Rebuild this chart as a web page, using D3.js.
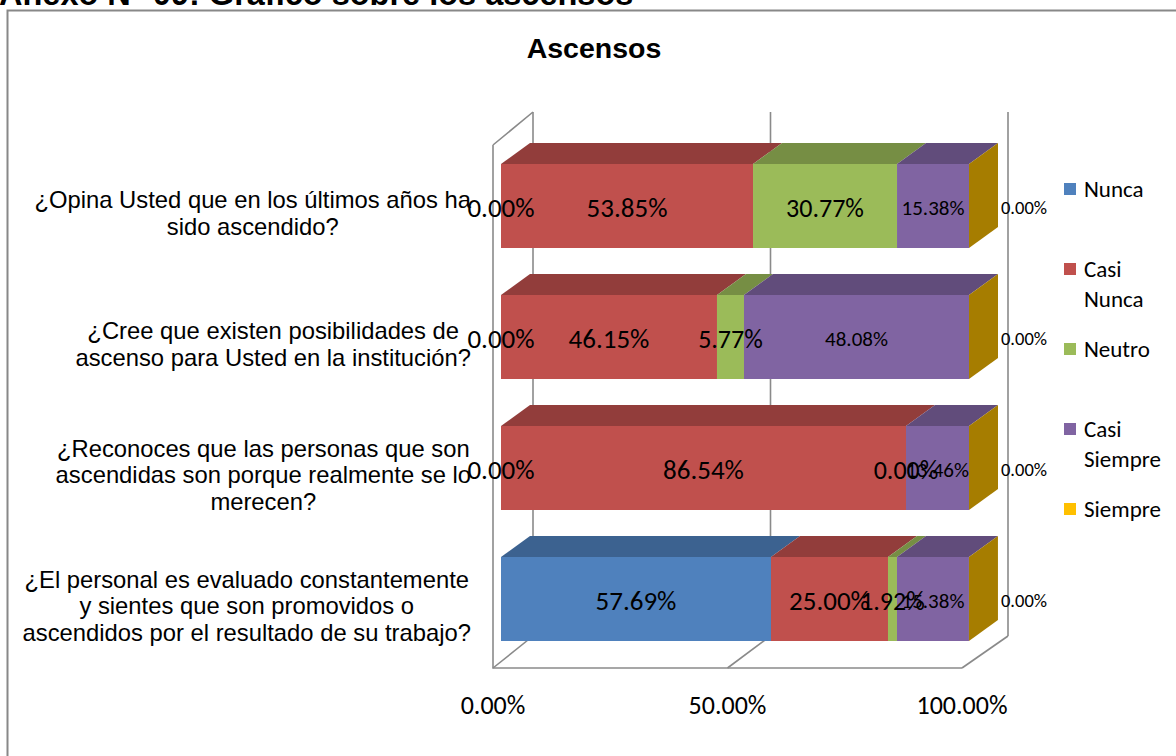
<!DOCTYPE html>
<html>
<head>
<meta charset="utf-8">
<script src="https://cdn.jsdelivr.net/npm/d3@7"></script>
<style>
  body { margin: 0; background: #fff; }
  svg text { fill: #000; }
</style>
</head>
<body>
<svg class="chart"></svg>
<script>
// data (rows top to bottom)
var questions = [
    ["¿Opina Usted que en los últimos años ha", "sido ascendido?"],
    ["¿Cree que existen posibilidades de", "ascenso para Usted en la institución?"],
    ["¿Reconoces que las personas que son", "ascendidas son porque realmente se lo", "merecen?"],
    ["¿El personal es evaluado constantemente", "y sientes que son promovidos o", "ascendidos por el resultado de su trabajo?"]
];
var series = ["Nunca", "Casi Nunca", "Neutro", "Casi Siempre", "Siempre"];
var nunca = [0.00, 0.00, 0.00, 57.69];
var casiNunca = [53.85, 46.15, 86.54, 25.00];
var neutro = [30.77, 5.77, 0.00, 1.92];
var casiSiempre = [15.38, 48.08, 13.46, 15.38];
var siempre = [0.00, 0.00, 0.00, 0.00];
var ticks = [0, 50, 100];

var colors = ["#4F81BD", "#C0504D", "#9BBB59", "#8064A2", "#FFC000"];
var labelSizes = [27, 27, 26, 21, 18.5];

var W = 1176, H = 756;
var depth = { x: 29, y: -21 };

var svg = d3.select("svg.chart")
    .attr("width", W)
    .attr("height", H);

// chart frame (runs off the right and bottom)
svg.append("rect")
    .attr("x", 7.5).attr("y", 10.5)
    .attr("width", 1300).attr("height", 900)
    .attr("fill", "none")
    .attr("stroke", "#888")
    .attr("stroke-width", 2);

svg.append("text")
    .text("Anexo N° 09: Gráfico sobre los ascensos")
    .attr("x", -1).attr("y", 5)
    .style("font-family", "Arial, 'Liberation Sans', sans-serif")
    .style("font-weight", "bold")
    .style("font-size", "32.5px");

svg.append("text")
    .text("Ascensos")
    .attr("x", 594).attr("y", 58)
    .attr("text-anchor", "middle")
    .style("font-family", "Arial, 'Liberation Sans', sans-serif")
    .style("font-weight", "bold")
    .style("font-size", "28.5px");

// build table for stack
var values = [nunca, casiNunca, neutro, casiSiempre, siempre];
var table = questions.map(function (q, i) {
    var row = { q: i };
    series.forEach(function (s, k) { row[s] = values[k][i]; });
    return row;
});
var stacked = d3.stack().keys(series)(table);

// scales
var x = d3.scaleLinear().domain([0, 100]).range([501, 969]);
var floorFront = d3.scaleLinear().domain([0, 100]).range([493, 962]);
var floorBack = d3.scaleLinear().domain([0, 100]).range([533, 1008]);
var y = d3.scaleBand()
    .domain(d3.range(questions.length))
    .range([140.5, 664.5])
    .paddingInner(0.3588)
    .paddingOuter(0.1794);

var wallTop = { front: 145, back: 112 };
var floorY = { front: 668, back: 636 };

// walls and floor
var grid = svg.append("g")
    .attr("fill", "none")
    .attr("stroke", "#8a8a8a")
    .attr("stroke-width", 1.6);

grid.append("path")
    .attr("d", "M" + [floorFront(0), wallTop.front] + "L" + [floorBack(0), wallTop.back] +
        "M" + [floorFront(0), wallTop.front] + "L" + [floorFront(0), floorY.front] +
        "L" + [floorFront(100), floorY.front]);

ticks.forEach(function (t) {
    grid.append("line")
        .attr("x1", floorBack(t)).attr("x2", floorBack(t))
        .attr("y1", wallTop.back).attr("y2", floorY.back);
    grid.append("line")
        .attr("x1", floorFront(t)).attr("x2", floorBack(t))
        .attr("y1", floorY.front).attr("y2", floorY.back);
});

function shade(c, k) {
    var r = d3.rgb(c);
    return d3.rgb(r.r * k, r.g * k, r.b * k).formatHex();
}

// bars
var bars = svg.append("g");
stacked.forEach(function (layer, k) {
    layer.forEach(function (d, i) {
        var x0 = x(d[0]), x1 = x(d[1]), y0 = y(i), h = y.bandwidth();
        if (x1 > x0) {
            bars.append("path")
                .attr("d", "M" + [x0, y0] + "L" + [x0 + depth.x, y0 + depth.y] +
                    "L" + [x1 + depth.x, y0 + depth.y] + "L" + [x1, y0] + "Z")
                .attr("fill", shade(colors[k], 0.76));
            bars.append("rect")
                .attr("x", x0).attr("y", y0)
                .attr("width", x1 - x0).attr("height", h)
                .attr("fill", colors[k]);
        }
        if (k === series.length - 1) {
            bars.append("path")
                .attr("d", "M" + [x1, y0] + "L" + [x1 + depth.x, y0 + depth.y] +
                    "L" + [x1 + depth.x, y0 + h + depth.y] + "L" + [x1, y0 + h] + "Z")
                .attr("fill", shade(colors[k], 0.65));
        }
    });
});

// data labels
var labels = svg.append("g")
    .attr("text-anchor", "middle")
    .style("font-family", "Calibri, Carlito, Lato, sans-serif");
stacked.forEach(function (layer, k) {
    layer.forEach(function (d, i) {
        var cx = k === series.length - 1 ? x(100) + 55 : (x(d[0]) + x(d[1])) / 2;
        labels.append("text")
            .text((d[1] - d[0]).toFixed(2) + "%")
            .attr("x", cx)
            .attr("y", y(i) + y.bandwidth() / 2 + 2)
            .attr("dy", "0.35em")
            .style("font-size", labelSizes[k] + "px");
    });
});

// category labels, lines centred inside a block that ends at the axis
var cats = svg.append("g")
    .style("font-family", "Arial, 'Liberation Sans', sans-serif")
    .style("font-size", "23.8px")
    .attr("text-anchor", "middle");
var lineH = 26.5;
questions.forEach(function (lines, i) {
    var g = cats.append("g");
    var texts = lines.map(function (l) { return g.append("text").text(l); });
    var maxW = d3.max(texts, function (t) { return t.node().getComputedTextLength(); });
    var cx = 471 - maxW / 2;
    var cy = y(i) + y.bandwidth() / 2 + 7;
    texts.forEach(function (t, j) {
        t.attr("x", cx)
            .attr("y", cy + (j - (lines.length - 1) / 2) * lineH)
            .attr("dy", "0.35em");
    });
});

// axis tick labels
svg.append("g")
    .attr("text-anchor", "middle")
    .style("font-family", "Calibri, Carlito, Lato, sans-serif")
    .style("font-size", "26px")
    .selectAll("text")
    .data(ticks)
    .enter().append("text")
    .text(function (t) { return t.toFixed(2) + "%"; })
    .attr("x", function (t) { return floorFront(t); })
    .attr("y", 705)
    .attr("dy", "0.35em");

// legend
var legendY = d3.scalePoint().domain(series).range([189, 509]);
var legend = svg.append("g")
    .style("font-family", "Calibri, Carlito, Lato, sans-serif")
    .style("font-size", "23px");
series.forEach(function (s, k) {
    var ly = legendY(s);
    legend.append("rect")
        .attr("x", 1064).attr("y", ly - 6)
        .attr("width", 12).attr("height", 12)
        .attr("fill", colors[k]);
    s.split(" ").forEach(function (w, j) {
        legend.append("text")
            .text(w)
            .attr("x", 1084)
            .attr("y", ly + j * 30)
            .attr("dy", "0.35em");
    });
});
</script>
</body>
</html>
